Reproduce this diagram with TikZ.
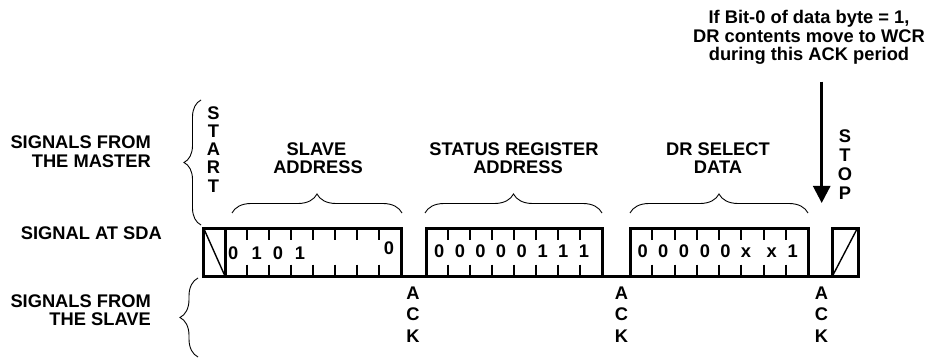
\documentclass[tikz,border=0pt]{standalone}
\usepackage{fontspec}
\setmainfont{Liberation Sans}
\usetikzlibrary{decorations.pathreplacing,arrows.meta}
\begin{document}
\begin{tikzpicture}[x=1pt,y=-1pt,
  lbl/.style={font=\bfseries\fontsize{18.3}{18}\selectfont, inner sep=0pt, anchor=base},
  lble/.style={lbl, anchor=base east},
  wave/.style={line width=3pt, line join=miter},
  tickl/.style={line width=2pt},
  diag/.style={line width=1.4pt},
  brc/.style={decorate, decoration={brace, amplitude=#1}, line width=0.9pt},
  arr/.style={line width=2.6pt, -{Triangle[width=17pt,length=17pt]}},
]
\useasboundingbox (0,0) rectangle (926,358);
% left labels
\node[lble] (m1) at (151,148.8) {SIGNALS FROM};
\node[lble] (m2) at (151,167.3) {THE MASTER};
\node[lble] (sda) at (162,239.3) {SIGNAL AT SDA};
\node[lble] (s1) at (151,307.3) {SIGNALS FROM};
\node[lble] (s2) at (151,325.3) {THE SLAVE};
% braces left
\draw[brc=17] (201,225) -- (201,100);
\draw[brc=18] (198,357) -- (198,278);
% START / STOP
\foreach \ch [count=\i] in {S,T,A,R,T}
  \node[lbl] (start\i) at (213.5,{100.8+18.3*\i}) {\ch};
\foreach \ch [count=\i] in {S,T,O,P}
  \node[lbl] (stop\i) at (845,{123.3+19*\i}) {\ch};
% byte labels
\node[lbl] (sa1) at (316.5,155.3) {SLAVE};
\node[lbl] (sa2) at (318,173.8) {ADDRESS};
\node[lbl] (sr1) at (514,155.3) {STATUS REGISTER};
\node[lbl] (sr2) at (518,173.8) {ADDRESS};
\node[lbl] (dr1) at (718,155.3) {DR SELECT};
\node[lbl] (dr2) at (718,173.8) {DATA};
% byte braces
\draw[brc=19] (232,213) -- (402,213);
\draw[brc=19] (425,213) -- (602,213);
\draw[brc=19] (630,213) -- (808,213);
% waveform
\draw[wave] (203,276) -- (858,276);
\draw[wave] (203,228) rectangle (225,276);
\draw[wave] (225,228) rectangle (401,276);
\draw[wave] (426,228) rectangle (602,276);
\draw[wave] (630,228) rectangle (808,276);
\draw[wave] (832,228) rectangle (858,276);
\draw[diag] (204,229) -- (224.5,275);
\draw[diag] (833,275) -- (857,229);
\foreach \xa/\w in {225/22, 426/22, 630/22.25}
  \foreach \k in {1,...,7} {
    \draw[tickl] ({\xa+\k*\w},228) -- ({\xa+\k*\w},240);
    \draw[tickl] ({\xa+\k*\w},264.5) -- ({\xa+\k*\w},276);
  }
% bits
\foreach \x/\b [count=\i] in {233.3/0, 256.7/1, 278/0, 300/1}
  \node[lbl] (sb\i) at (\x,259.7) {\b};
\node[lbl] (sb8) at (389,254.7) {0};
\foreach \x/\b [count=\i] in {439.3/0, 460/0, 480.5/0, 501/0, 521.7/0, 542.7/1, 563.3/1, 584/1}
  \node[lbl] (rb\i) at (\x,257.3) {\b};
\foreach \x/\b [count=\i] in {642.7/0, 663.3/0, 684/0, 705/0, 725.5/0, 746/x, 771.7/x, 792.7/1}
  \node[lbl] (db\i) at (\x,257.3) {\b};
% ACK
\foreach \x [count=\j] in {413,621.5,821.5}
  \foreach \ch [count=\i] in {A,C,K}
    \node[lbl] (ack\j\i) at (\x,{277.8+21.5*\i}) {\ch};
% note
\node[lbl] (n1) at (809,23.8) {If Bit-0 of data byte = 1,};
\node[lbl] (n2) at (809,42.3) {DR contents move to WCR};
\node[lbl] (n3) at (809,60.6) {during this ACK period};
\coordinate (arrS) at (821.7,81.7);
\coordinate (arrE) at (821.7,203);
\draw[arr] (arrS) -- (arrE);
\end{tikzpicture}
\end{document}
